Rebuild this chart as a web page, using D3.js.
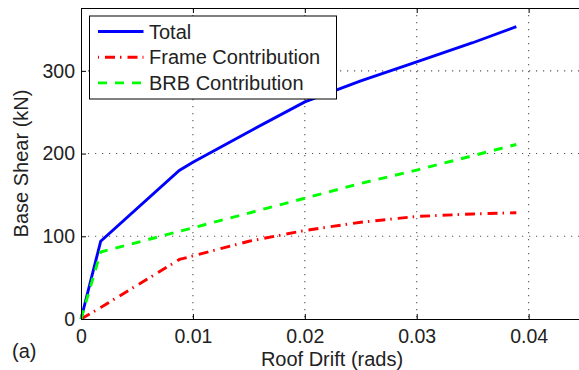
<!DOCTYPE html>
<html>
<head>
<meta charset="utf-8">
<script src="https://cdn.jsdelivr.net/npm/d3@7"></script>
<style>
  body { margin: 0; background: #fff; }
  svg { display: block; font-family: "Liberation Sans", Arial, sans-serif; }
  .grid line { stroke: #555; stroke-width: 1.1; stroke-dasharray: 1.2,5.8; }
  .axis path, .axis line { stroke: #000; stroke-width: 1; }
  .axis text { font-family: "Liberation Sans", Arial, sans-serif; font-size: 19.5px; fill: #222; }
  .label { font-size: 20px; fill: #222; }
</style>
</head>
<body>
<div id="chart"></div>
<script>
// values
var xTicks = [0, 0.01, 0.02, 0.03, 0.04];
var yTicks = [0, 100, 200, 300];

var totalDrift = [0, 0.00176, 0.00878, 0.01, 0.0155, 0.02, 0.025, 0.03, 0.035, 0.0389];
var totalShear = [0, 94, 179.5, 189.5, 230, 262.5, 288, 311, 334, 353.5];

var frameDrift = [0, 0.00176, 0.0088, 0.015, 0.02, 0.025, 0.03, 0.035, 0.0389];
var frameShear = [0, 14, 72, 94, 107, 117, 124, 127, 128.5];

var brbDrift = [0, 0.00176, 0.0088, 0.02, 0.025, 0.03, 0.0389];
var brbShear = [0, 81, 106, 146, 164, 180, 211];

var seriesNames = ['Total', 'Frame Contribution', 'BRB Contribution'];

// plot box (window.top is reserved, so names are prefixed)
var width = 579, height = 370,
    plotLeft = 81, plotTop = 8, plotRight = 579, plotBottom = 319;

var x = d3.scaleLinear().domain([0, 0.0445]).range([plotLeft, plotRight]);
var y = d3.scaleLinear().domain([0, 376]).range([plotBottom, plotTop]);

var series = [
  { name: seriesNames[0], xs: totalDrift, ys: totalShear, color: '#0000ff', dash: null },
  { name: seriesNames[1], xs: frameDrift, ys: frameShear, color: '#ff0000', dash: '10,5,1.5,6' },
  { name: seriesNames[2], xs: brbDrift, ys: brbShear, color: '#00ff00', dash: '9,8' }
];

var svg = d3.select('#chart').append('svg')
    .attr('width', width)
    .attr('height', height);

// dotted grid
var grid = svg.append('g').attr('class', 'grid');
grid.selectAll('line.v')
    .data(xTicks.slice(1))
  .enter().append('line')
    .attr('class', 'v')
    .attr('x1', function(d) { return x(d); })
    .attr('x2', function(d) { return x(d); })
    .attr('y1', plotTop)
    .attr('y2', plotBottom);
grid.selectAll('line.h')
    .data(yTicks.slice(1))
  .enter().append('line')
    .attr('class', 'h')
    .attr('x1', plotLeft)
    .attr('x2', plotRight)
    .attr('y1', function(d) { return y(d); })
    .attr('y2', function(d) { return y(d); });

// curves
var line = d3.line()
    .x(function(d) { return x(d[0]); })
    .y(function(d) { return y(d[1]); });

svg.append('g').selectAll('path')
    .data(series)
  .enter().append('path')
    .attr('d', function(s) { return line(d3.zip(s.xs, s.ys)); })
    .attr('fill', 'none')
    .attr('stroke', function(s) { return s.color; })
    .attr('stroke-width', 2.9)
    .attr('stroke-dasharray', function(s) { return s.dash; });

// axes, ticks point inward like matlab
var fmtX = function(d) { return d === 0 ? '0' : d3.format('.2f')(d); };

svg.append('g')
    .attr('class', 'axis')
    .attr('transform', 'translate(0,' + plotBottom + ')')
    .call(d3.axisBottom(x).tickValues(xTicks).tickFormat(fmtX)
      .tickSizeInner(-5).tickSizeOuter(0).tickPadding(10));

svg.append('g')
    .attr('class', 'axis')
    .attr('transform', 'translate(' + plotLeft + ',0)')
    .call(d3.axisLeft(y).tickValues(yTicks).tickFormat(d3.format('d'))
      .tickSizeInner(-5).tickSizeOuter(0).tickPadding(6));

// top border with its ticks
svg.append('g')
    .attr('class', 'axis')
    .attr('transform', 'translate(0,' + plotTop + ')')
    .call(d3.axisTop(x).tickValues(xTicks).tickFormat('')
      .tickSizeInner(-5).tickSizeOuter(0));

// axis titles
svg.append('text')
    .attr('class', 'label')
    .attr('x', 332)
    .attr('y', 366)
    .attr('text-anchor', 'middle')
    .text('Roof Drift (rads)');

svg.append('text')
    .attr('class', 'label')
    .attr('transform', 'rotate(-90)')
    .attr('x', -(plotTop + plotBottom) / 2)
    .attr('y', 28)
    .attr('text-anchor', 'middle')
    .text('Base Shear (kN)');

svg.append('text')
    .attr('class', 'label')
    .attr('x', 12)
    .attr('y', 358)
    .text('(a)');

// legend
var legend = svg.append('g');
legend.append('rect')
    .attr('x', 89.5)
    .attr('y', 16)
    .attr('width', 247)
    .attr('height', 83)
    .attr('fill', '#fff')
    .attr('stroke', '#000')
    .attr('stroke-width', 1);

var rows = legend.selectAll('g.row')
    .data(series)
  .enter().append('g')
    .attr('class', 'row')
    .attr('transform', function(d, i) { return 'translate(0,' + (31.5 + i * 25.7) + ')'; });

rows.append('line')
    .attr('x1', 98)
    .attr('x2', 143.5)
    .attr('stroke', function(s) { return s.color; })
    .attr('stroke-width', 2.9)
    .attr('stroke-dasharray', function(s) { return s.dash; })
    .attr('stroke-dashoffset', function(s, i) { return i === 1 ? 15.5 : 0; });

rows.append('text')
    .attr('class', 'label')
    .attr('x', 149)
    .attr('y', 7)
    .text(function(s) { return s.name; });
</script>
</body>
</html>
